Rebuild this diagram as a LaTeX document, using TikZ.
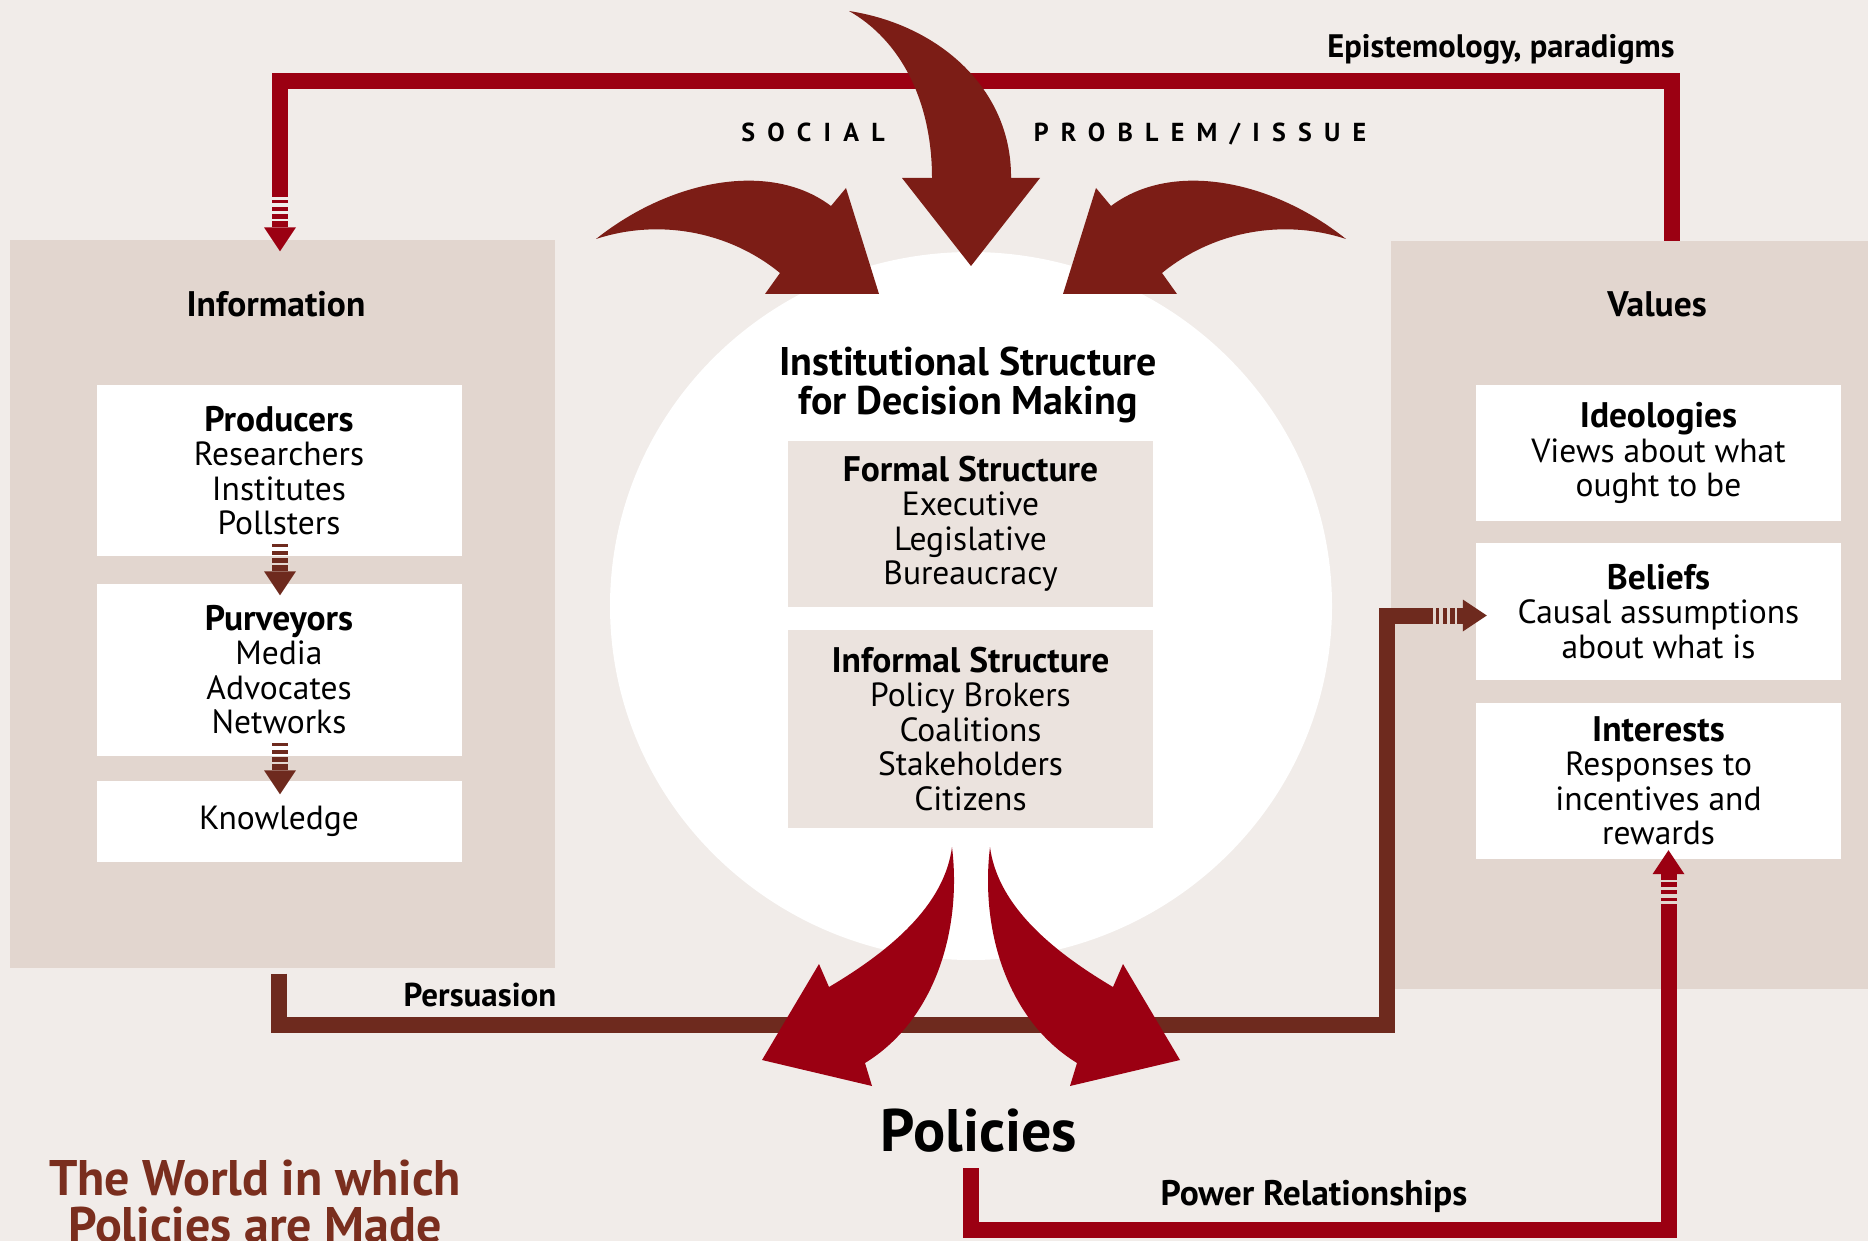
\documentclass[tikz,border=0pt]{standalone}
\usepackage{fontspec}
\setmainfont{PT Sans}
\definecolor{bgc}{RGB}{241,236,233}
\definecolor{panelc}{RGB}{226,214,207}
\definecolor{innerc}{RGB}{235,227,222}
\definecolor{redc}{RGB}{155,0,18}
\definecolor{darkredc}{RGB}{124,29,22}
\definecolor{brownc}{RGB}{110,42,30}
\definecolor{titlec}{RGB}{122,46,30}
% striped arrow tip: #1 tip, #2 angle, #3 colour
\newcommand{\stripedtip}[3]{%
  \begin{scope}[shift={#1}, rotate=#2]
    \fill[#3] (-16,-24) -- (16,-24) -- (0,0) -- cycle;
    \fill[#3] (-8,-30) rectangle (8,-24);
    \fill[#3] (-8,-37) rectangle (8,-32);
    \fill[#3] (-8,-44) rectangle (8,-40);
    \fill[#3] (-8,-51) rectangle (8,-48);
  \end{scope}}
\newcommand{\bhead}[1]{{\fontsize{35.5}{34.5}\selectfont\bfseries #1}}
\tikzset{
  panel/.style={fill=panelc, inner sep=0pt},
  wbox/.style={fill=white, minimum width=365pt, align=center, inner sep=0pt, font=\fontsize{33.5}{34.5}\selectfont},
  ibox/.style={wbox, fill=innerc},
  head/.style={font=\fontsize{35.5}{38}\selectfont\bfseries},
  lbl/.style={font=\fontsize{32.5}{36}\selectfont\bfseries},
  spaced/.style={anchor=base, font=\fontsize{26}{28}\selectfont\bfseries\addfontfeature{LetterSpace=47}},
  redline/.style={draw=redc, line width=16pt},
  brownline/.style={draw=brownc, line width=16pt}
}
\begin{document}
\begin{tikzpicture}[x=1pt, y=-1pt]
  \useasboundingbox (0,0) rectangle (1868,1241);
  \fill[bgc] (0,0) rectangle (1868,1241);
  % panels and circle
  \node[panel, minimum width=545pt, minimum height=727pt] (info) at (282,604) {};
  \node[panel, minimum width=480pt, minimum height=748pt] (val) at (1631,615) {};
  \fill[white] (971,606) ellipse [x radius=361pt, y radius=354pt];
  \node[head] (infot) at (276,304) {Information};
  \node[head] (valt) at (1657,304) {Values};
  \node[wbox, minimum height=171pt] (prod) at (279,470.5) {\bhead{Producers}\\Researchers\\Institutes\\Pollsters};
  \node[wbox, minimum height=172pt] (purv) at (279,669.5) {\bhead{Purveyors}\\Media\\Advocates\\Networks};
  \node[wbox, minimum height=81pt] (know) at (279,821) {Knowledge};
  \node[wbox, minimum height=136pt] (ideo) at (1658.5,453) {\bhead{Ideologies}\\Views about what\\ought to be};
  \node[wbox, minimum height=137pt] (belief) at (1658.5,611.5) {\bhead{Beliefs}\\Causal assumptions\\about what is};
  \node[wbox, minimum height=156pt] (interest) at (1658.5,781) {\bhead{Interests}\\Responses to\\incentives and\\rewards};
  \node[align=center, font=\fontsize{40}{39}\selectfont\bfseries] (inst) at (968,385) {Institutional Structure\\for Decision Making};
  \node[ibox, minimum height=166pt] (formal) at (970.5,524) {\bhead{Formal Structure}\\Executive\\Legislative\\Bureaucracy};
  \node[ibox, minimum height=198pt] (informal) at (970.5,729) {\bhead{Informal Structure}\\Policy Brokers\\Coalitions\\Stakeholders\\Citizens};
  % connectors
  \coordinate (powstart) at (971,1168);
  \draw[redline] ([xshift=41pt]val.north) -- ++(0,-160) -| ([xshift=-2pt,yshift=43pt]info.north);
  \stripedtip{([xshift=-2pt,yshift=-11pt]info.north)}{0}{redc}
  \stripedtip{([xshift=1pt,yshift=-12pt]purv.north)}{0}{brownc}
  \stripedtip{([xshift=1pt,yshift=-14pt]know.north)}{0}{brownc}
  \draw[brownline] ([xshift=-3pt,yshift=-6pt]info.south) -- ++(0,51) -- ++(1108,0) |- ([xshift=-43pt,yshift=-4pt]belief.west);
  \stripedtip{([xshift=11pt,yshift=-4pt]belief.west)}{90}{brownc}
  \draw[redline] (powstart) -- ++(0,62) -| ([xshift=10pt,yshift=-45pt]interest.south);
  \stripedtip{([xshift=10pt,yshift=9pt]interest.south)}{180}{redc}
  % big curved arrows
  \fill[darkredc] (849,11) .. controls (940,25) and (1012,90) .. (1011,178) -- (1040,178) -- (971,266) -- (902,178) -- (932,178) .. controls (932,100) and (900,40) .. (849,11) -- cycle;
  \foreach \s in {1,-1}{
    \begin{scope}[shift={(971,0)}, xscale=\s, shift={(-971,0)}]
      \fill[darkredc] (596,239) .. controls (670,180) and (770,160) .. (831,206) -- (846,188) -- (879,294) -- (765,294) -- (780,273) .. controls (730,232) and (660,218) .. (596,239) -- cycle;
      \fill[redc] (952,847) .. controls (962,930) and (935,1020) .. (865,1063) -- (872,1086) -- (762,1060) -- (819,964) -- (829,987) .. controls (900,945) and (945,900) .. (952,847) -- cycle;
    \end{scope}
  }
  % labels
  \node[lbl] (epi) at (1501,49) {Epistemology, paradigms};
  \node[spaced] (social) at (813,142) {SOCIAL};
  \node[spaced] (problem) at (1200,142) {PROBLEM/ISSUE};
  \node[lbl, font=\fontsize{33}{36}\selectfont\bfseries] (persu) at (480,995) {Persuasion};
  \node[lbl, font=\fontsize{35.5}{38}\selectfont\bfseries] (power) at (1314,1196) {Power Relationships};
  \node[font=\fontsize{60}{62}\selectfont\bfseries] (pol) at (979,1131) {Policies};
  \node[align=center, text=titlec, font=\fontsize{50}{47}\selectfont\bfseries] (world) at (255,1202) {The World in which\\Policies are Made};
\end{tikzpicture}
\end{document}
